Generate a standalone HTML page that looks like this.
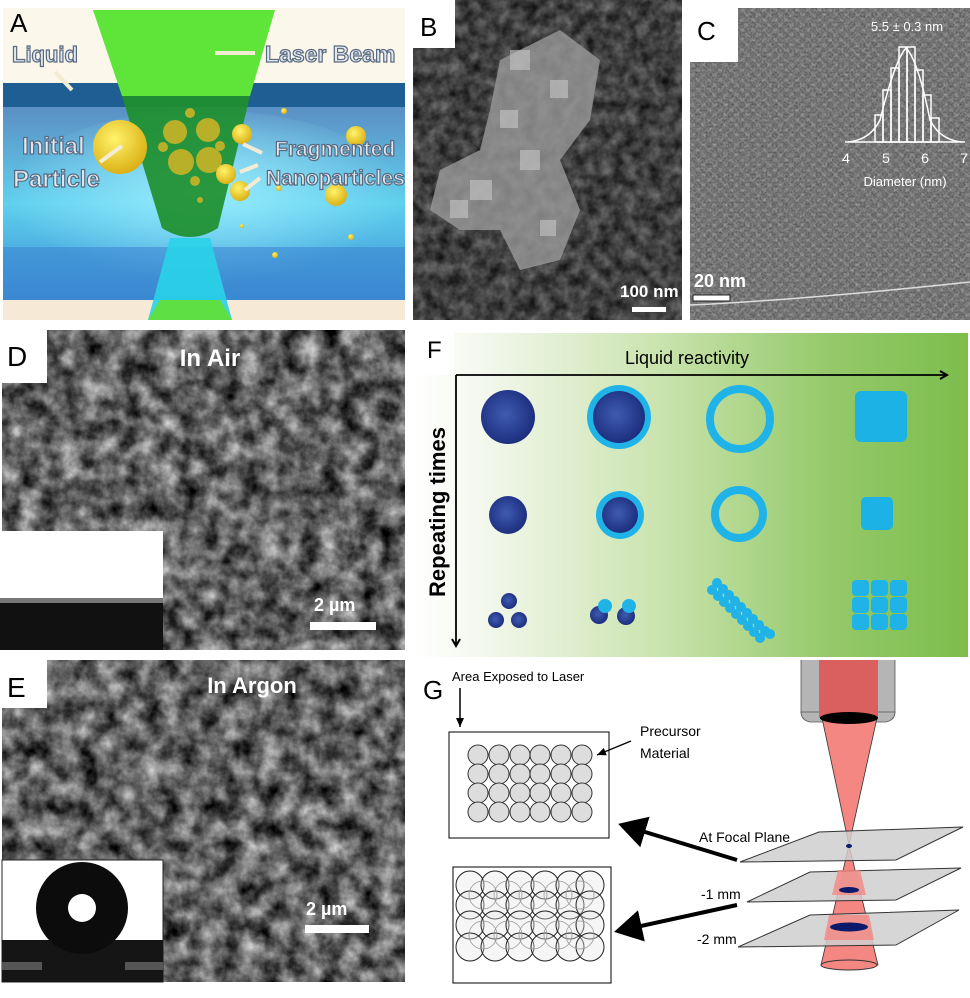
<!DOCTYPE html>
<html><head><meta charset="utf-8"><style>
html,body{margin:0;padding:0;background:#fff;}
svg{display:block;font-family:"Liberation Sans",sans-serif;}
</style></head><body>
<svg width="970" height="998" viewBox="0 0 970 998" xmlns="http://www.w3.org/2000/svg">
<defs>
<filter id="sem" x="0" y="0" width="100%" height="100%" filterUnits="objectBoundingBox" color-interpolation-filters="sRGB">
<feTurbulence type="fractalNoise" baseFrequency="0.05" numOctaves="4" seed="3" result="t"/>
<feColorMatrix in="t" type="matrix" values="1.1 0 0 0 -0.17  1.1 0 0 0 -0.17  1.1 0 0 0 -0.17  0 0 0 0 1"/>
</filter>
<filter id="semB" x="0" y="0" width="100%" height="100%" filterUnits="objectBoundingBox" color-interpolation-filters="sRGB">
<feTurbulence type="fractalNoise" baseFrequency="0.08" numOctaves="3" seed="9" result="t"/>
<feColorMatrix in="t" type="matrix" values="0.5 0 0 0 0  0.5 0 0 0 0  0.5 0 0 0 0  0 0 0 0 1"/>
</filter>
<filter id="noiseC" x="0" y="0" width="100%" height="100%" color-interpolation-filters="sRGB">
<feTurbulence type="fractalNoise" baseFrequency="0.5" numOctaves="2" seed="7"/>
<feColorMatrix type="matrix" values="1 0 0 0 0  1 0 0 0 0  1 0 0 0 0  0 0 0 0 0.3"/>
</filter>
<pattern id="dots" width="11" height="10" patternUnits="userSpaceOnUse">
<circle cx="5" cy="5" r="3.6" fill="#3c3c3c"/>
<circle cx="10.5" cy="0" r="3.6" fill="#4a4a4a"/>
<circle cx="10.5" cy="10" r="3.6" fill="#4a4a4a"/>
<circle cx="0" cy="0" r="3.6" fill="#4a4a4a"/>
<circle cx="0" cy="10" r="3.6" fill="#4a4a4a"/>
</pattern>
<linearGradient id="bodyA" x1="0" y1="0" x2="0" y2="1">
<stop offset="0" stop-color="#5b8fc4"/><stop offset="0.5" stop-color="#5fd0ee"/><stop offset="1" stop-color="#3a8ed4"/>
</linearGradient>
<radialGradient id="glowA" cx="0.5" cy="0.45" r="0.5">
<stop offset="0" stop-color="#9ff0ff" stop-opacity="0.9"/><stop offset="1" stop-color="#9ff0ff" stop-opacity="0"/>
</radialGradient>
<linearGradient id="gradF" x1="0" y1="0" x2="1" y2="0">
<stop offset="0" stop-color="#ffffff"/><stop offset="0.12" stop-color="#f4f8ee"/><stop offset="0.45" stop-color="#c9e3ad"/><stop offset="0.75" stop-color="#95c96a"/><stop offset="1" stop-color="#7cbd4c"/>
</linearGradient>
<radialGradient id="ball" cx="0.45" cy="0.45" r="0.6">
<stop offset="0" stop-color="#3f5cb0"/><stop offset="1" stop-color="#1a2a7a"/>
</radialGradient>
<radialGradient id="yel" cx="0.4" cy="0.35" r="0.7">
<stop offset="0" stop-color="#fff46a"/><stop offset="1" stop-color="#d9ac10"/>
</radialGradient>
<marker id="ah" markerWidth="10" markerHeight="10" refX="8" refY="5" orient="auto" markerUnits="userSpaceOnUse">
<path d="M1,1 L8,5 L1,9" fill="none" stroke="#000" stroke-width="2"/>
</marker>
<marker id="ahs" markerWidth="10" markerHeight="10" refX="9" refY="5" orient="auto" markerUnits="userSpaceOnUse">
<path d="M0,1 L9,5 L0,9 z" fill="#000"/>
</marker>
<marker id="ahb" markerWidth="8" markerHeight="8" refX="6" refY="4" orient="auto">
<path d="M0,0 L7,4 L0,8 z" fill="#000"/>
</marker>
</defs>

<!-- ===== Panel A ===== -->
<rect x="3" y="8" width="402" height="75" fill="#fbf7ea"/>
<rect x="3" y="83" width="402" height="24" fill="#1f5e92"/>
<rect x="3" y="107" width="402" height="193" fill="url(#bodyA)"/>
<ellipse cx="205" cy="200" rx="200" ry="90" fill="url(#glowA)"/>
<rect x="3" y="247" width="402" height="53" fill="#3b84cf" opacity="0.55"/>
<rect x="3" y="300" width="402" height="20" fill="#f6ead6"/>
<polygon points="148,320 232,320 210,238 170,238" fill="#29d3e8" opacity="0.9"/>
<polygon points="148,320 160,300 220,300 232,320" fill="#5ee045"/>
<polygon points="93,10 275,10 250,96 122,96" fill="#5fe43a"/>
<path d="M122,96 L250,96 L218,228 Q190,246 162,228 Z" fill="#1e8f2e" opacity="0.92"/>
<circle cx="120" cy="147" r="27" fill="url(#yel)"/>
<g fill="#b9b02a">
<circle cx="175" cy="132" r="12"/><circle cx="208" cy="130" r="12"/><circle cx="181" cy="162" r="13"/><circle cx="209" cy="160" r="13"/>
<circle cx="163" cy="147" r="5"/><circle cx="220" cy="146" r="5"/><circle cx="195" cy="181" r="5"/><circle cx="190" cy="113" r="5"/><circle cx="200" cy="200" r="3"/>
</g>
<g fill="url(#yel)">
<circle cx="242" cy="134" r="10"/><circle cx="226" cy="174" r="10"/><circle cx="240" cy="191" r="10"/>
<circle cx="356" cy="136" r="10"/><circle cx="336" cy="195" r="11"/>
<circle cx="284" cy="111" r="3"/><circle cx="279" cy="188" r="3"/><circle cx="242" cy="226" r="2"/><circle cx="351" cy="237" r="3"/><circle cx="275" cy="255" r="3"/>
</g>
<g stroke="#f3ecd2" stroke-width="4" fill="none">
<line x1="55" y1="72" x2="72" y2="90"/><line x1="255" y1="53" x2="215" y2="53"/>
<line x1="100" y1="162" x2="122" y2="146"/><line x1="262" y1="153" x2="243" y2="144"/>
<line x1="258" y1="165" x2="240" y2="172"/><line x1="260" y1="178" x2="245" y2="190"/>
</g>
<g font-weight="bold" font-size="24" fill="#e2e8f0" stroke="#5a6a80" stroke-width="1.2">
<text x="12" y="62" font-size="22">Liquid</text>
<text x="265" y="62" font-size="23">Laser Beam</text>
<text x="22" y="154">Initial</text>
<text x="13" y="187">Particle</text>
<text x="275" y="156" font-size="21">Fragmented</text>
<text x="266" y="185" font-size="21">Nanoparticles</text>
</g>
<rect x="3" y="8" width="34" height="26" fill="#fbf7ea"/>
<text x="10" y="32" font-size="26" fill="#000">A</text>

<!-- ===== Panel B ===== -->
<rect x="413" y="0" width="269" height="320" filter="url(#semB)"/>
<g fill="#9a9a9a" opacity="0.8">
<path d="M500,60 L560,30 L600,60 L590,120 L560,160 L580,210 L560,260 L520,270 L500,230 L460,230 L430,210 L440,170 L480,150 L490,110 Z"/>
</g>
<g fill="#c8c8c8" opacity="0.6">
<rect x="510" y="50" width="20" height="20"/><rect x="550" y="80" width="18" height="18"/><rect x="470" y="180" width="22" height="20"/><rect x="520" y="150" width="20" height="20"/><rect x="540" y="220" width="16" height="16"/><rect x="450" y="200" width="18" height="18"/><rect x="500" y="110" width="18" height="18"/>
</g>
<rect x="413" y="0" width="42" height="48" fill="#fff"/>
<text x="420" y="36" font-size="26">B</text>
<text x="620" y="297" font-size="17" font-weight="bold" fill="#fff">100 nm</text>
<rect x="632" y="307" width="34" height="5" fill="#fff"/>

<!-- ===== Panel C ===== -->
<rect x="690" y="8" width="280" height="312" fill="#8a8a8a"/>
<rect x="690" y="8" width="280" height="312" fill="url(#dots)" opacity="0.45"/>
<rect x="690" y="8" width="280" height="312" filter="url(#noiseC)"/>
<path d="M690,305 Q800,300 970,282" stroke="#ddd" stroke-width="1.5" fill="none"/>
<rect x="690" y="8" width="48" height="54" fill="#fff"/>
<text x="697" y="40" font-size="26">C</text>
<g stroke="#fff" fill="none" stroke-width="1.5">
<line x1="845" y1="142" x2="965" y2="142"/>
<path d="M848,142 Q870,140 880,120 Q895,60 906,48 Q918,60 930,120 Q940,140 962,142"/>
<rect x="875" y="115" width="8" height="27"/><rect x="883" y="90" width="8" height="52"/><rect x="891" y="68" width="8" height="74"/><rect x="899" y="47" width="8" height="95"/><rect x="907" y="47" width="8" height="95"/><rect x="915" y="70" width="8" height="72"/><rect x="923" y="95" width="8" height="47"/><rect x="931" y="118" width="8" height="24"/>
</g>
<text x="907" y="31" font-size="13" fill="#fff" text-anchor="middle">5.5 ± 0.3 nm</text>
<g font-size="14" fill="#fff" text-anchor="middle">
<text x="846" y="163">4</text><text x="886" y="163">5</text><text x="925" y="163">6</text><text x="964" y="163">7</text>
<text x="905" y="186" font-size="13">Diameter (nm)</text>
</g>
<text x="694" y="287" font-size="18" font-weight="bold" fill="#fff">20 nm</text>
<rect x="693" y="295" width="37" height="6" fill="#fff" stroke="#222" stroke-width="1"/>

<!-- ===== Panel D ===== -->
<rect x="2" y="330" width="403" height="320" filter="url(#sem)"/>
<rect x="0" y="330" width="47" height="53" fill="#fff"/>
<text x="7" y="366" font-size="28">D</text>
<text x="210" y="366" font-size="24" font-weight="bold" fill="#fff" text-anchor="middle">In Air</text>
<rect x="0" y="531" width="163" height="119" fill="#fff"/>
<rect x="0" y="602" width="163" height="48" fill="#111"/>
<rect x="0" y="598" width="163" height="5" fill="#777"/>
<text x="314" y="611" font-size="18" font-weight="bold" fill="#fff">2 µm</text>
<rect x="310" y="622" width="66" height="8" fill="#fff"/>

<!-- ===== Panel E ===== -->
<rect x="2" y="660" width="403" height="322" filter="url(#sem)"/>
<rect x="0" y="660" width="47" height="48" fill="#fff"/>
<text x="7" y="697" font-size="28">E</text>
<text x="252" y="693" font-size="22" font-weight="bold" fill="#fff" text-anchor="middle">In Argon</text>
<rect x="2" y="860" width="161" height="122" fill="#fff" stroke="#222" stroke-width="1"/>
<rect x="2" y="940" width="161" height="42" fill="#151515"/>
<rect x="2" y="962" width="40" height="8" fill="#555"/>
<rect x="125" y="962" width="38" height="8" fill="#555"/>
<circle cx="82" cy="908" r="46" fill="#0c0c0c"/>
<rect x="60" y="935" width="44" height="10" fill="#0c0c0c"/>
<circle cx="82" cy="908" r="14" fill="#fff"/>
<text x="306" y="915" font-size="18" font-weight="bold" fill="#fff">2 µm</text>
<rect x="305" y="925" width="64" height="8" fill="#fff"/>

<!-- ===== Panel F ===== -->
<rect x="413" y="333" width="555" height="324" fill="url(#gradF)"/>
<rect x="413" y="333" width="42" height="42" fill="#fff"/>
<text x="427" y="358" font-size="24">F</text>
<text x="625" y="364" font-size="18">Liquid reactivity</text>
<line x1="456" y1="375" x2="947" y2="375" stroke="#000" stroke-width="1.8" marker-end="url(#ah)"/>
<line x1="456" y1="375" x2="456" y2="646" stroke="#000" stroke-width="1.8" marker-end="url(#ah)"/>
<text transform="translate(445,512) rotate(-90)" font-size="22" font-weight="bold" text-anchor="middle">Repeating times</text>
<circle cx="508" cy="417" r="27" fill="url(#ball)"/>
<circle cx="619" cy="417" r="32" fill="#1fb3e8"/><circle cx="619" cy="417" r="26" fill="url(#ball)"/>
<circle cx="740" cy="419" r="30" fill="none" stroke="#1fb3e8" stroke-width="8"/>
<rect x="855" y="391" width="52" height="51" rx="6" fill="#1cb2e6"/>
<circle cx="508" cy="515" r="19" fill="url(#ball)"/>
<circle cx="620" cy="515" r="24" fill="#1fb3e8"/><circle cx="620" cy="515" r="18" fill="url(#ball)"/>
<circle cx="739" cy="514" r="24" fill="none" stroke="#1fb3e8" stroke-width="8"/>
<rect x="861" y="497" width="32" height="33" rx="5" fill="#1cb2e6"/>
<g fill="url(#ball)"><circle cx="509" cy="601" r="8"/><circle cx="496" cy="620" r="8"/><circle cx="519" cy="620" r="8"/>
<circle cx="599" cy="615" r="9"/><circle cx="626" cy="616" r="9"/></g>
<g fill="#1fb3e8"><circle cx="605" cy="606" r="7"/><circle cx="629" cy="606" r="7"/>
<circle cx="717" cy="583" r="5"/><circle cx="723" cy="589" r="5"/><circle cx="729" cy="595" r="5"/><circle cx="735" cy="601" r="5"/><circle cx="741" cy="607" r="5"/><circle cx="747" cy="613" r="5"/><circle cx="753" cy="619" r="5"/><circle cx="759" cy="625" r="5"/><circle cx="765" cy="631" r="5"/>
<circle cx="712" cy="590" r="5"/><circle cx="718" cy="596" r="5"/><circle cx="724" cy="602" r="5"/><circle cx="730" cy="608" r="5"/><circle cx="736" cy="614" r="5"/><circle cx="742" cy="620" r="5"/><circle cx="748" cy="626" r="5"/><circle cx="754" cy="632" r="5"/><circle cx="760" cy="638" r="5"/><circle cx="770" cy="634" r="5"/>
<rect x="852" y="580" width="17" height="16" rx="4"/><rect x="871" y="580" width="17" height="16" rx="4"/><rect x="890" y="580" width="17" height="16" rx="4"/>
<rect x="852" y="597" width="17" height="16" rx="4"/><rect x="871" y="597" width="17" height="16" rx="4"/><rect x="890" y="597" width="17" height="16" rx="4"/>
<rect x="852" y="614" width="17" height="16" rx="4"/><rect x="871" y="614" width="17" height="16" rx="4"/><rect x="890" y="614" width="17" height="16" rx="4"/>
</g>

<!-- ===== Panel G ===== -->
<text x="423" y="699" font-size="26">G</text>
<text x="452" y="681" font-size="13">Area Exposed to Laser</text>
<line x1="460" y1="688" x2="460" y2="727" stroke="#000" stroke-width="1.5" marker-end="url(#ahs)"/>
<rect x="449" y="732" width="160" height="106" fill="#fff" stroke="#000" stroke-width="1"/>
<g fill="#ddd" stroke="#333" stroke-width="1">
<circle cx="478" cy="755" r="10"/><circle cx="499" cy="755" r="10"/><circle cx="520" cy="755" r="10"/><circle cx="540" cy="755" r="10"/><circle cx="561" cy="755" r="10"/><circle cx="582" cy="755" r="10"/>
<circle cx="478" cy="774" r="10"/><circle cx="499" cy="774" r="10"/><circle cx="520" cy="774" r="10"/><circle cx="540" cy="774" r="10"/><circle cx="561" cy="774" r="10"/><circle cx="582" cy="774" r="10"/>
<circle cx="478" cy="793" r="10"/><circle cx="499" cy="793" r="10"/><circle cx="520" cy="793" r="10"/><circle cx="540" cy="793" r="10"/><circle cx="561" cy="793" r="10"/><circle cx="582" cy="793" r="10"/>
<circle cx="478" cy="812" r="10"/><circle cx="499" cy="812" r="10"/><circle cx="520" cy="812" r="10"/><circle cx="540" cy="812" r="10"/><circle cx="561" cy="812" r="10"/><circle cx="582" cy="812" r="10"/>
</g>
<text x="640" y="736" font-size="14">Precursor</text>
<text x="640" y="758" font-size="14">Material</text>
<line x1="631" y1="741" x2="597" y2="755" stroke="#000" stroke-width="1.3" marker-end="url(#ahs)"/>
<rect x="453" y="867" width="158" height="116" fill="#fff" stroke="#000" stroke-width="1"/>
<g fill="#e6e6e6" fill-opacity="0.35" stroke="#222" stroke-width="1">
<circle cx="470" cy="885" r="14"/><circle cx="495" cy="885" r="14"/><circle cx="520" cy="885" r="14"/><circle cx="545" cy="885" r="14"/><circle cx="570" cy="885" r="14"/><circle cx="590" cy="885" r="14"/>
<circle cx="470" cy="905" r="14"/><circle cx="495" cy="905" r="14"/><circle cx="520" cy="905" r="14"/><circle cx="545" cy="905" r="14"/><circle cx="570" cy="905" r="14"/><circle cx="590" cy="905" r="14"/>
<circle cx="470" cy="925" r="14"/><circle cx="495" cy="925" r="14"/><circle cx="520" cy="925" r="14"/><circle cx="545" cy="925" r="14"/><circle cx="570" cy="925" r="14"/><circle cx="590" cy="925" r="14"/>
<circle cx="470" cy="947" r="14"/><circle cx="495" cy="947" r="14"/><circle cx="520" cy="947" r="14"/><circle cx="545" cy="947" r="14"/><circle cx="570" cy="947" r="14"/><circle cx="590" cy="947" r="14"/>
</g>
<g fill="none" stroke="#999" stroke-width="0.8">
<circle cx="483" cy="895" r="14"/><circle cx="508" cy="895" r="14"/><circle cx="533" cy="895" r="14"/><circle cx="558" cy="895" r="14"/><circle cx="580" cy="895" r="14"/>
<circle cx="483" cy="935" r="14"/><circle cx="508" cy="935" r="14"/><circle cx="533" cy="935" r="14"/><circle cx="558" cy="935" r="14"/><circle cx="580" cy="935" r="14"/>
</g>
<rect x="801" y="660" width="94" height="52" fill="#b5b5b5"/>
<path d="M801,712 Q801,720 810,722 L886,722 Q895,720 895,712 Z" fill="#b5b5b5" stroke="#555" stroke-width="0.8"/>
<line x1="801" y1="660" x2="801" y2="713" stroke="#555" stroke-width="0.8"/>
<line x1="895" y1="660" x2="895" y2="713" stroke="#555" stroke-width="0.8"/>
<rect x="819" y="660" width="59" height="58" fill="#d9605e"/>
<polygon points="822,718 877,718 849,845" fill="#f58782" stroke="#333" stroke-width="0.8"/>
<polygon points="849,845 821,965 878,965" fill="#f58782" stroke="#333" stroke-width="0.8"/>
<ellipse cx="849" cy="718" rx="29" ry="6" fill="#000"/>
<polygon points="740,862 819,832 963,827 896,860" fill="#cfcfcf" fill-opacity="0.85" stroke="#333" stroke-width="1"/>
<polygon points="747,902 810,872 961,868 896,900" fill="#cfcfcf" fill-opacity="0.85" stroke="#333" stroke-width="1"/>
<polygon points="738,947 810,915 959,910 896,945" fill="#cfcfcf" fill-opacity="0.85" stroke="#333" stroke-width="1"/>
<polygon points="838,870 860,870 866,895 832,895" fill="#f58782" opacity="0.8"/>
<polygon points="829,915 869,915 874,940 824,940" fill="#f58782" opacity="0.8"/>
<ellipse cx="849" cy="846" rx="3" ry="2" fill="#0b1a6a"/>
<ellipse cx="849" cy="890" rx="10" ry="3" fill="#0b1a6a"/>
<ellipse cx="849" cy="927" rx="19" ry="4.5" fill="#0b1a6a"/>
<ellipse cx="849" cy="965" rx="28" ry="5" fill="#f58782" stroke="#333" stroke-width="1"/>
<text x="699" y="842" font-size="14">At Focal Plane</text>
<text x="701" y="899" font-size="14">-1 mm</text>
<text x="697" y="944" font-size="14">-2 mm</text>
<line x1="737" y1="860" x2="622" y2="825" stroke="#000" stroke-width="4" marker-end="url(#ahb)"/>
<line x1="737" y1="905" x2="618" y2="931" stroke="#000" stroke-width="4" marker-end="url(#ahb)"/>
</svg>
</body></html>
